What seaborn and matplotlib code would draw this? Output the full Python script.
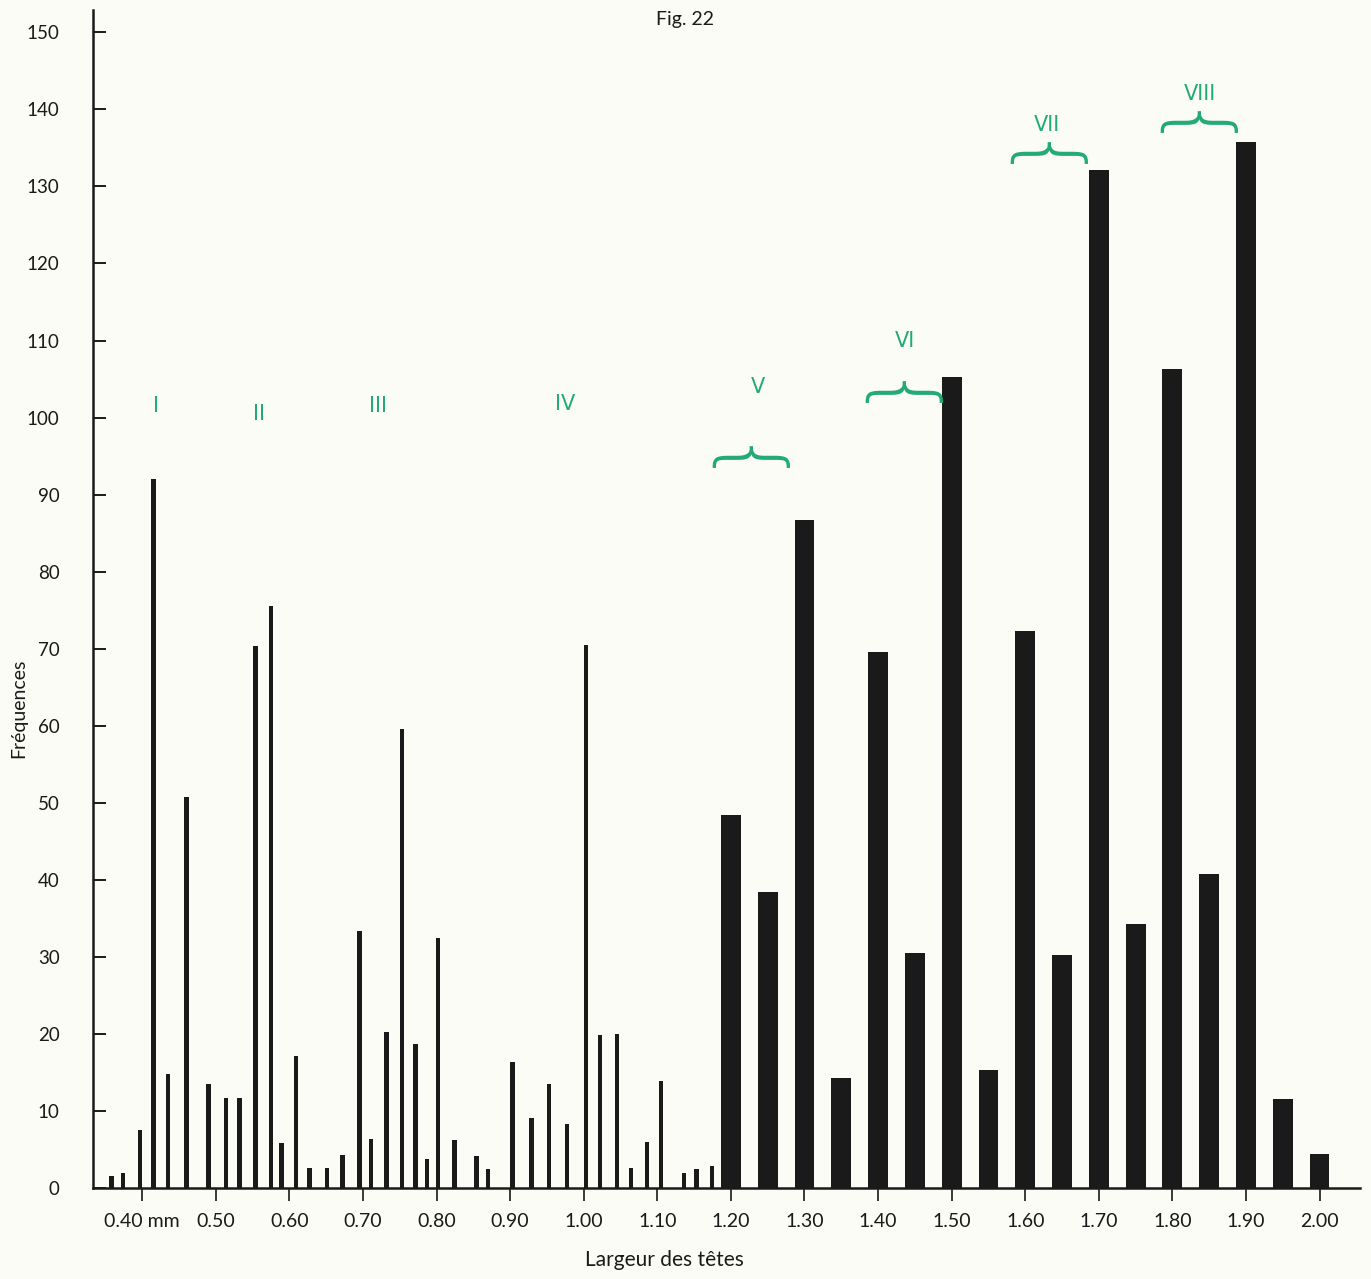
import numpy as np
import pandas as pd
import matplotlib
matplotlib.use("Agg")
import matplotlib.pyplot as plt
import seaborn as sns

# ---------------- data ----------------
# thin bars (head widths in mm, individual micrometer classes)
thin_x = [0.358, 0.374, 0.397, 0.415, 0.435, 0.460, 0.490, 0.514, 0.532, 0.554,
          0.575, 0.589, 0.609, 0.627, 0.651, 0.672, 0.695, 0.711, 0.732, 0.753,
          0.771, 0.787, 0.802, 0.824, 0.854, 0.870, 0.903, 0.929, 0.953, 0.977,
          1.003, 1.022, 1.045, 1.064, 1.086, 1.105, 1.136, 1.153, 1.174]
thin_y = [1.6, 2.0, 7.5, 92, 14.8, 50.8, 13.5, 11.7, 11.7, 70.4,
          75.6, 5.9, 17.1, 2.6, 2.6, 4.3, 33.4, 6.3, 20.3, 59.6,
          18.7, 3.8, 32.4, 6.2, 4.1, 2.5, 16.4, 9.1, 13.5, 8.3,
          70.5, 19.9, 20.0, 2.6, 6.0, 13.9, 2.0, 2.5, 2.9]

# thick bars (0.05 mm classes)
thick_x = [1.20, 1.25, 1.30, 1.35, 1.40, 1.45, 1.50, 1.55, 1.60,
           1.65, 1.70, 1.75, 1.80, 1.85, 1.90, 1.95, 2.00]
thick_y = [48.4, 38.4, 86.7, 14.3, 69.6, 30.5, 105.3, 15.3, 72.3,
           30.3, 132.1, 34.3, 106.3, 40.7, 135.8, 11.6, 4.4]

xticks = [0.40, 0.50, 0.60, 0.70, 0.80, 0.90, 1.00, 1.10, 1.20,
          1.30, 1.40, 1.50, 1.60, 1.70, 1.80, 1.90, 2.00]
xticklabels = ["0.40 mm", "0.50", "0.60", "0.70", "0.80", "0.90", "1.00", "1.10",
               "1.20", "1.30", "1.40", "1.50", "1.60", "1.70", "1.80", "1.90", "2.00"]
yticks = list(range(0, 151, 10))

# instar annotations (hand-written green marks)
instar_labels = ["I", "II", "III", "IV", "V", "VI", "VII", "VIII"]
instar_x = [0.418, 0.558, 0.721, 0.975, 1.237, 1.437, 1.630, 1.838]
instar_y = [101.5, 100.5, 101.5, 101.8, 104.0, 110.0, 138.0, 142.0]
brace_labels = ["V", "VI", "VII", "VIII"]
brace_x = [1.205, 1.413, 1.610, 1.814]
brace_y = [93.0, 101.5, 132.5, 136.5]

# ---------------- styling ----------------
sns.set_theme(style="ticks")
plt.rcParams["font.family"] = ["Lato", "DejaVu Sans"]

bg = "#fcfcf6"
ink = "#1a1a1a"
green = "#22aa78"

fig = plt.figure(figsize=(13.71, 12.79), dpi=100, facecolor=bg)
ax = fig.add_axes([93 / 1371, 91 / 1279, (1360 - 93) / 1371, (1269 - 91) / 1279])
ax.set_facecolor(bg)

thin_df = pd.DataFrame({"x": thin_x, "y": thin_y})
thick_df = pd.DataFrame({"x": thick_x, "y": thick_y})

thin_w = 0.0062 / np.min(np.diff(np.sort(thin_x)))
thick_w = 0.027 / np.min(np.diff(np.sort(thick_x)))

sns.barplot(data=thin_df, x="x", y="y", native_scale=True, width=thin_w,
            color=ink, saturation=1, errorbar=None, linewidth=0, ax=ax)
sns.barplot(data=thick_df, x="x", y="y", native_scale=True, width=thick_w,
            color=ink, saturation=1, errorbar=None, linewidth=0, ax=ax)

ax.set_xlim(0.333, 2.055)
ax.set_ylim(0, 152.9)

ax.set_xticks(xticks)
ax.set_xticklabels(xticklabels)
ax.set_yticks(yticks)
ax.set_yticklabels([str(v) for v in yticks])

ax.tick_params(axis="y", direction="in", length=9, width=1.4, pad=24,
               labelsize=13.5, colors=ink)
ax.tick_params(axis="x", direction="out", length=9, width=1.2, pad=9,
               labelsize=14, colors=ink)

for s in ["top", "right"]:
    ax.spines[s].set_visible(False)
for s in ["left", "bottom"]:
    ax.spines[s].set_linewidth(1.8)
    ax.spines[s].set_color(ink)

ax.set_xlabel("Largeur des têtes", fontsize=15, color=ink)
ax.xaxis.set_label_coords(0.451, -0.053)
ax.set_ylabel("Fréquences", fontsize=14, color=ink)
ax.yaxis.set_label_coords(-0.052, 0.407)

fig.text(0.5, 1 - 20 / 1279, "Fig. 22", ha="center", va="center",
         fontsize=14, color=ink)

for lab, x, y in zip(instar_labels, instar_x, instar_y):
    ax.text(x, y, lab, ha="center", va="center", fontsize=15, color=green,
            family=["DejaVu Sans"])

for lab, x, y in zip(brace_labels, brace_x, brace_y):
    ax.text(x, y, "{", ha="center", va="center", fontsize=60, color=green,
            rotation=-90, family=["DejaVu Sans"], fontweight="light")

sns.despine(ax=ax)
fig.savefig("out.png", dpi=100, facecolor=bg)
